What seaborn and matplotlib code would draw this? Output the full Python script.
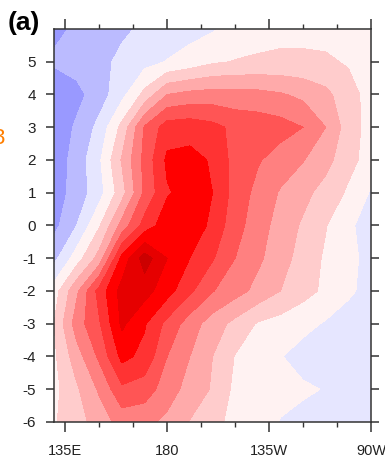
import numpy as np
import matplotlib
matplotlib.use("Agg")
import matplotlib.pyplot as plt
import seaborn as sns

sns.set_style("ticks")
plt.rcParams['font.family'] = ['Liberation Sans', 'DejaVu Sans']

# longitude grid (degrees east) and lag (rows)
lons = [130, 140, 150, 160, 170, 180, 190, 200, 210, 220, 230, 240, 250, 260, 270]
lags = [-6, -5, -4, -3, -2, -1, 0, 1, 2, 3, 4, 5, 6]

row_m6 = [0.9, 1.6, 2.45, 3.4, 3.3, 2.75, 1.95, 1.25, 0.75, 0.45, -0.05, -0.3, -0.4, -0.4, -0.4]
row_m5 = [0.7, 1.85, 3.15, 4.8, 4.5, 3.5, 2.6, 1.9, 0.75, 0.45, 0.3, 0.15, -0.05, -0.4, -0.5]
row_m4 = [0.8, 2.55, 4.2, 6.3, 5.7, 4.0, 3.0, 2.0, 0.95, 0.55, 0.05, -0.4, -0.5, -0.5, -0.5]
row_m3 = [1.0, 3.5, 4.9, 7.2, 6.1, 4.7, 3.5, 2.5, 1.7, 0.9, 0.6, 0.3, -0.1, -0.4, -0.5]
row_m2 = [0.5, 2.8, 5.4, 7.4, 7.4, 6.4, 5.2, 4.05, 3.4, 2.7, 2.0, 1.35, 0.8, 0.15, -0.3]
row_m1 = [-1.3, 0.5, 2.4, 6.3, 8.5, 7.0, 6.0, 5.1, 4.0, 3.2, 2.4, 1.6, 0.85, 0.25, -0.3]
row_0 = [-2.3, -1.0, 0.9, 3.4, 5.4, 6.6, 6.8, 5.7, 4.4, 3.45, 2.6, 1.85, 1.05, 0.2, -0.5]
row_p1 = [-2.5, -1.6, -0.4, 1.6, 4.2, 5.9, 6.4, 6.0, 4.6, 3.7, 2.9, 2.3, 1.6, 0.85, -0.1]
row_p2 = [-2.6, -1.6, -0.15, 2.1, 4.3, 6.2, 6.3, 5.9, 4.6, 4.1, 3.55, 3.05, 2.35, 1.3, 0.6]
row_p3 = [-2.7, -1.85, -0.7, 1.3, 4.1, 5.5, 5.6, 5.3, 4.75, 4.6, 4.4, 4.0, 3.0, 1.5, 0.6]
row_p4 = [-3.05, -2.3, -1.5, -0.3, 1.3, 3.0, 3.3, 3.4, 3.35, 3.3, 3.1, 2.75, 2.25, 1.4, 0.6]
row_p5 = [-1.8, -1.6, -1.25, -0.8, -0.35, 0.05, 0.4, 0.85, 1.05, 1.15, 1.2, 1.2, 1.15, 0.9, 0.6]
row_p6 = [-2.3, -1.8, -1.5, -1.15, -0.85, -0.6, -0.35, -0.1, 0.3, 0.55, 0.7, 0.7, 0.65, 0.5, 0.4]

levels = [-3, -2, -1, 0, 1, 2, 3, 4, 5, 6, 7, 8]
fill_colors = ['#8585ff', '#9999ff', '#bbbbff', '#e6e6ff', '#fff2f2', '#ffcccc', '#ffaaaa',
               '#ff8080', '#ff5555', '#ff3333', '#ff0000', '#e60000', '#cc0000']

xtick_pos = [135, 180, 225, 270]
xtick_labels = ['135E', '180', '135W', '90W']
xminor_pos = [150, 165, 195, 210, 240, 255]
ytick_pos = [-6, -5, -4, -3, -2, -1, 0, 1, 2, 3, 4, 5]

Z = np.array([row_m6, row_m5, row_m4, row_m3, row_m2, row_m1, row_0,
              row_p1, row_p2, row_p3, row_p4, row_p5, row_p6])

fig = plt.figure(figsize=(3.85, 4.65), dpi=100)
ax = fig.add_axes([0.1403, 0.0925, 0.8234, 0.8452])

ax.contourf(lons, lags, Z, levels=levels, colors=fill_colors, extend='both')

ax.set_xlim(130, 270)
ax.set_ylim(-6, 6)
ax.set_xticks(xtick_pos)
ax.set_xticklabels(xtick_labels)
ax.set_xticks(xminor_pos, minor=True)
ax.set_yticks(ytick_pos)
ax.set_yticklabels([str(v) for v in ytick_pos])

spine_col = '#333333'
for s in ax.spines.values():
    s.set_linewidth(1.1)
    s.set_color(spine_col)

ax.tick_params(axis='x', which='major', direction='out', length=7, width=1.1,
               top=True, bottom=True, color=spine_col, labelsize=10.5, pad=9)
ax.tick_params(axis='x', which='minor', direction='out', length=3.5, width=1.0,
               top=True, bottom=True, color=spine_col)
ax.tick_params(axis='y', which='major', direction='out', length=6, width=1.1,
               left=True, right=True, color=spine_col, labelsize=11, pad=7)
ax.tick_params(labelcolor='#222222')

fig.text(8 / 385, 1 - 23 / 465, '(a)', fontsize=19, fontweight='bold',
         ha='left', va='center', color='black')
fig.text(4 / 385, 1 - 139 / 465, '3', fontsize=16, color='#ff7f00',
         ha='right', va='center')

fig.savefig('out.png', dpi=100)
